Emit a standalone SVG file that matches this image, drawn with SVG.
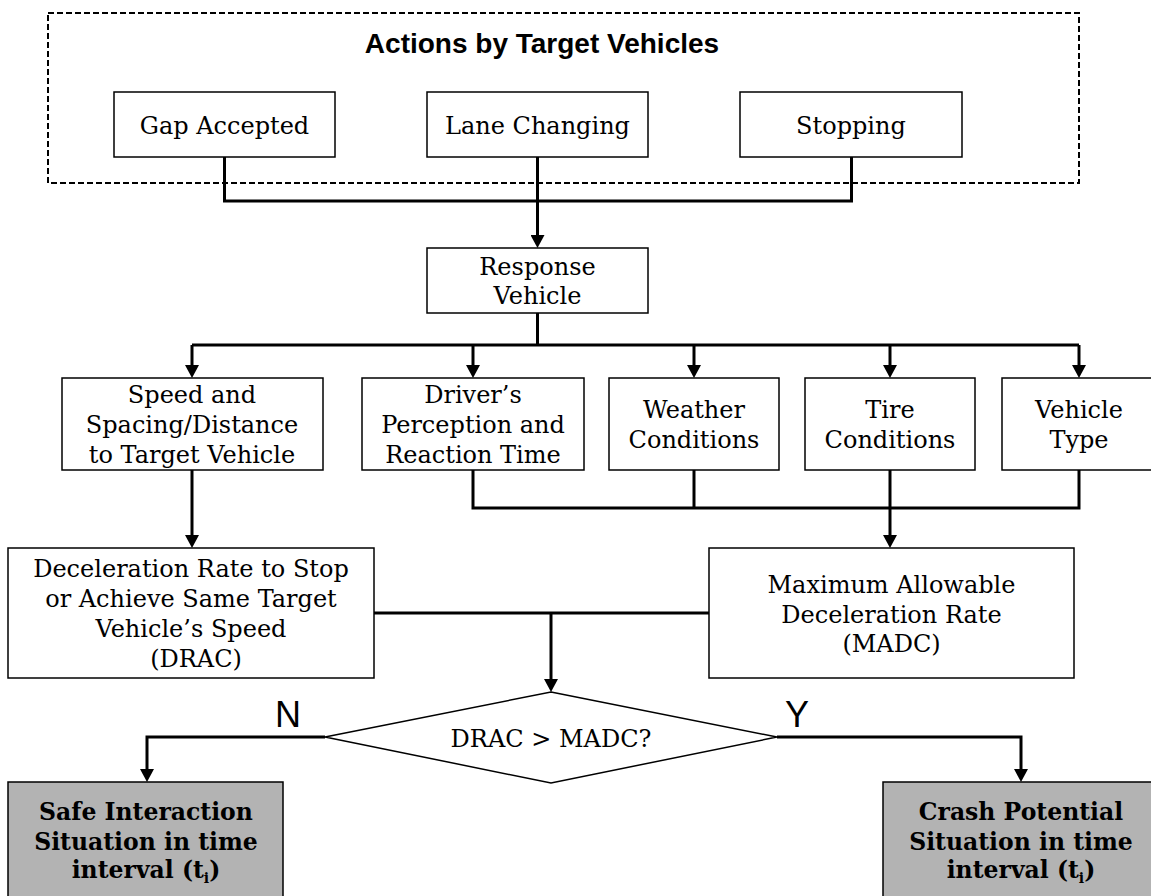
<svg xmlns="http://www.w3.org/2000/svg" width="1151" height="896" viewBox="0 0 1151 896">
<style>
.box{fill:#fff;stroke:#000;stroke-width:1.5}
.gray{fill:#b3b3b3;stroke:#000;stroke-width:1.5}
.t{font-family:"DejaVu Serif",serif;font-size:24px;text-anchor:middle;fill:#000}
.b{font-weight:bold;font-size:23.5px}
.s{font-family:"Liberation Sans",Arial,sans-serif;fill:#000;text-anchor:middle}
.c{fill:none;stroke:#000;stroke-width:3}
.ca{fill:none;stroke:#000;stroke-width:3;marker-end:url(#ah)}
</style>
<defs>
<marker id="ah" markerUnits="userSpaceOnUse" markerWidth="14" markerHeight="14" refX="7" refY="7" orient="auto">
<path d="M0,0 L13,7 L0,14 z" fill="#000"/>
</marker>
</defs>
<rect width="1151" height="896" fill="#fff"/>

<g id="target-actions">
<rect x="48" y="13" width="1031" height="170" fill="none" stroke="#000" stroke-width="2" stroke-dasharray="6 3"/>
<text class="s" x="542" y="53" font-size="28" font-weight="bold">Actions by Target Vehicles</text>
</g>

<g id="connectors">
<path class="c" d="M224.5,157 V201 H851.5 V157"/>
<path class="ca" d="M537.5,157 V242"/>
<path class="c" d="M537.5,313 V345"/>
<path class="c" d="M192,345 H1079"/>
<path class="ca" d="M192,345 V372"/>
<path class="ca" d="M473,345 V372"/>
<path class="ca" d="M694,345 V372"/>
<path class="ca" d="M890,345 V372"/>
<path class="ca" d="M1079,345 V372"/>
<path class="ca" d="M192,470 V542"/>
<path class="c" d="M473,470 V508 H1079 V470"/>
<path class="c" d="M694,470 V508"/>
<path class="ca" d="M890,470 V542"/>
<path class="c" d="M374,613 H709"/>
<path class="ca" d="M551,613 V686"/>
<path class="ca" d="M325,737 H147 V776"/>
<path class="ca" d="M777,737 H1021 V776"/>
</g>

<g id="gap-accepted">
<rect class="box" x="114" y="92" width="221" height="65"/>
<text class="t" x="224.5" y="134">Gap Accepted</text>
</g>
<g id="lane-changing">
<rect class="box" x="427" y="92" width="221" height="65"/>
<text class="t" x="537.5" y="134">Lane Changing</text>
</g>
<g id="stopping">
<rect class="box" x="740" y="92" width="222" height="65"/>
<text class="t" x="851" y="134">Stopping</text>
</g>

<g id="response-vehicle">
<rect class="box" x="427" y="248" width="221" height="65"/>
<text class="t" x="537.5" y="275">Response</text>
<text class="t" x="537.5" y="304">Vehicle</text>
</g>

<g id="speed-spacing">
<rect class="box" x="62" y="378" width="261" height="92"/>
<text class="t" x="192" y="403">Speed and</text>
<text class="t" x="192" y="433">Spacing/Distance</text>
<text class="t" x="192" y="463">to Target Vehicle</text>
</g>
<g id="driver-perception">
<rect class="box" x="362" y="378" width="222" height="92"/>
<text class="t" x="473" y="403">Driver’s</text>
<text class="t" x="473" y="433">Perception and</text>
<text class="t" x="473" y="463">Reaction Time</text>
</g>
<g id="weather">
<rect class="box" x="609" y="378" width="170" height="92"/>
<text class="t" x="694" y="418">Weather</text>
<text class="t" x="694" y="448">Conditions</text>
</g>
<g id="tire">
<rect class="box" x="805" y="378" width="170" height="92"/>
<text class="t" x="890" y="418">Tire</text>
<text class="t" x="890" y="448">Conditions</text>
</g>
<g id="vehicle-type">
<rect class="box" x="1002" y="378" width="155" height="92"/>
<text class="t" x="1079" y="418">Vehicle</text>
<text class="t" x="1079" y="448">Type</text>
</g>

<g id="drac">
<rect class="box" x="8" y="548" width="366" height="130"/>
<text class="t" x="191" y="577">Deceleration Rate to Stop</text>
<text class="t" x="191" y="607">or Achieve Same Target</text>
<text class="t" x="191" y="637">Vehicle’s Speed</text>
<text class="t" x="196" y="667">(DRAC)</text>
</g>
<g id="madc">
<rect class="box" x="709" y="548" width="365" height="130"/>
<text class="t" x="891.5" y="593">Maximum Allowable</text>
<text class="t" x="891.5" y="623">Deceleration Rate</text>
<text class="t" x="891.5" y="652">(MADC)</text>
</g>

<g id="decision">
<polygon points="551,692 777,737 551,783 325,737" fill="#fff" stroke="#000" stroke-width="1.5"/>
<text class="t" x="551" y="747">DRAC &gt; MADC?</text>
</g>
<g id="label-n"><text class="s" x="288" y="727" font-size="36">N</text></g>
<g id="label-y"><text class="s" x="797" y="727" font-size="36">Y</text></g>

<g id="safe">
<rect class="gray" x="8" y="782" width="275" height="130"/>
<text class="t b" x="146" y="820">Safe Interaction</text>
<text class="t b" x="146" y="850">Situation in time</text>
<text class="t b" x="146" y="878">interval (t<tspan font-size="14" dy="5">i</tspan><tspan dy="-5">)</tspan></text>
</g>
<g id="crash">
<rect class="gray" x="883" y="782" width="276" height="130"/>
<text class="t b" x="1021" y="820">Crash Potential</text>
<text class="t b" x="1021" y="850">Situation in time</text>
<text class="t b" x="1021" y="878">interval (t<tspan font-size="14" dy="5">i</tspan><tspan dy="-5">)</tspan></text>
</g>
</svg>
